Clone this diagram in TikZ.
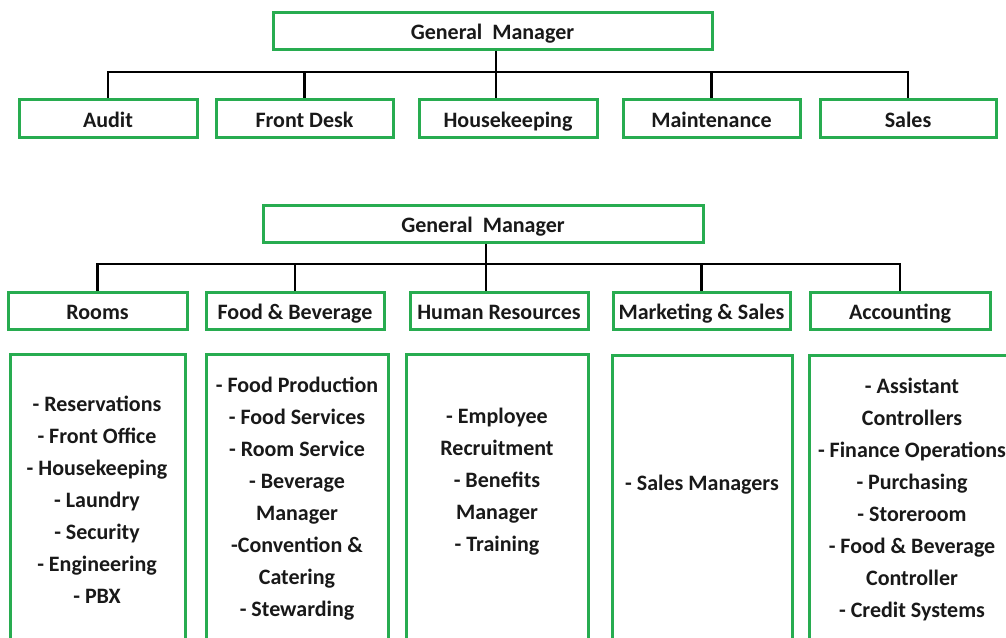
\documentclass[tikz,border=0pt]{standalone}
\usepackage{fontspec}
\setmainfont{Carlito}
\definecolor{grn}{RGB}{40,172,80}
\definecolor{txt}{RGB}{25,25,25}
\begin{document}
\begin{tikzpicture}[x=1pt,y=-1pt,
  box/.style={draw=grn,line width=3pt,rectangle,inner sep=0pt,minimum height=37pt,
    text height=18pt,text depth=0pt,
    font=\fontsize{22}{26}\selectfont\bfseries,text=txt},
  bigbox/.style={draw=grn,line width=3pt,rectangle,inner sep=0pt},
  lst/.style={align=center,inner sep=0pt,font=\fontsize{22}{32}\selectfont\bfseries,text=txt},
  conn/.style={draw=black,line width=2.6pt}]
\clip (0,0) rectangle (1006,637);
\useasboundingbox (0,0) rectangle (1006,637);
\fill[white] (0,0) rectangle (1006,637);

% ---- top chart ----
\node[box,minimum width=439pt] (gm1) at (492.5,30.5) {General\ \ Manager};
\node[box,minimum width=178pt,minimum height=38pt] (audit) at (108,118) {Audit};
\node[box,minimum width=177pt,minimum height=38pt] (fd) at (304.5,118) {Front Desk};
\node[box,minimum width=178pt,minimum height=38pt] (hk) at (508,118) {Housekeeping};
\node[box,minimum width=177pt,minimum height=38pt] (mt) at (711.5,118) {Maintenance};
\node[box,minimum width=176pt,minimum height=38pt] (sl) at (908,118) {Sales};
\coordinate (j1) at (496,72);

\draw[conn] (gm1.south -| j1) -- (hk.north -| j1);
\draw[conn] (audit.north) -- (audit.north |- j1) -- (sl.north |- j1) -- (sl.north);
\draw[conn] (fd.north) -- (fd.north |- j1);
\draw[conn] (mt.north) -- (mt.north |- j1);

% ---- bottom chart ----
\node[box,minimum width=440pt] (gm2) at (483,223.5) {General\ \ Manager};
\node[box,minimum width=179pt] (rm) at (97.5,310.5) {Rooms};
\node[box,minimum width=178pt] (fb) at (295,310.5) {Food \& Beverage};
\node[box,minimum width=178pt] (hr) at (499,310.5) {Human Resources};
\node[box,minimum width=177pt] (ms) at (701.5,310.5) {Marketing \& Sales};
\node[box,minimum width=180pt] (ac) at (900,310.5) {Accounting};
\coordinate (j2) at (486,264);

\draw[conn] (gm2.south -| j2) -- (hr.north -| j2);
\draw[conn] (rm.north) -- (rm.north |- j2) -- (ac.north |- j2) -- (ac.north);
\draw[conn] (fb.north) -- (fb.north |- j2);
\draw[conn] (ms.north) -- (ms.north |- j2);

% ---- detail boxes ----
\node[bigbox,minimum width=175pt,minimum height=306pt] (rmB) at (97.5,507) {};
\node[bigbox,minimum width=182pt,minimum height=306pt] (fbB) at (297,507) {};
\node[bigbox,minimum width=182pt,minimum height=306pt] (hrB) at (497,507) {};
\node[bigbox,minimum width=180pt,minimum height=306pt] (msB) at (702,508) {};
\node[bigbox,minimum width=211pt,minimum height=306pt] (acB) at (914.5,508) {};

\node[lst] (rmT) at (97,500) {- Reservations\\- Front Office\\- Housekeeping\\- Laundry\\- Security\\- Engineering\\- PBX};
\node[lst] (fbT) at (297,499) {- Food Production\\- Food Services\\- Room Service\\- Beverage\\Manager\\-Convention \&\\Catering\\- Stewarding};
\node[lst] (hrT) at (497,482) {- Employee\\Recruitment\\- Benefits\\Manager\\- Training};
\node[lst] (msT) at (702,485) {- Sales Managers};
\node[lst] (acT) at (912,499.5) {- Assistant\\Controllers\\- Finance Operations\\- Purchasing\\- Storeroom\\- Food \& Beverage\\Controller\\- Credit Systems};
\end{tikzpicture}
\end{document}
